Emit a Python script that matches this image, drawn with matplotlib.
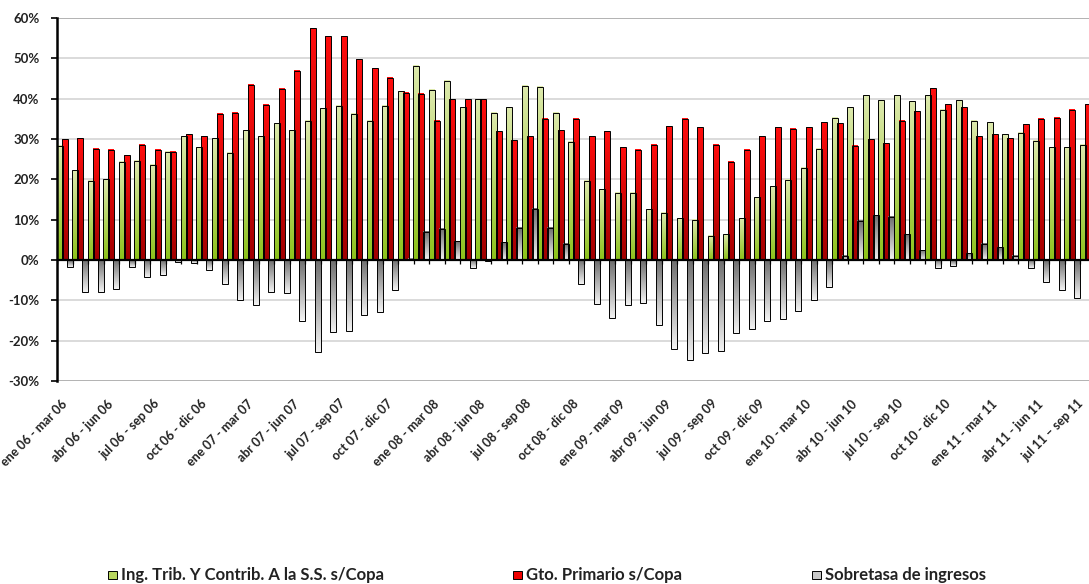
import numpy as np
import matplotlib
matplotlib.use("Agg")
import matplotlib.pyplot as plt
from matplotlib.colors import LinearSegmentedColormap
from matplotlib.patches import Rectangle

# ---- data (percent) ----
ingresos = [28.3, 22.3, 19.7, 20.0, 24.3, 24.6, 23.6, 26.9, 30.7, 27.9,
            30.2, 26.6, 32.2, 30.7, 33.9, 32.2, 34.5, 37.6, 38.2, 36.2,
            34.5, 38.2, 41.9, 48.2, 42.2, 44.5, 37.9, 39.9, 36.5, 37.9,
            43.2, 42.9, 36.5, 29.3, 19.6, 17.6, 16.7, 16.7, 12.6, 11.7,
            10.3, 10.0, 6.0, 6.4, 10.3, 15.6, 18.3, 19.9, 22.9, 27.6,
            35.3, 37.9, 40.9, 39.6, 40.9, 39.3, 40.9, 37.2, 39.6, 34.5,
            34.2, 31.2, 31.6, 29.6, 27.9, 27.9, 28.6]
gasto = [29.9, 30.2, 27.6, 27.3, 26.0, 28.6, 27.3, 26.9, 31.2, 30.7,
         36.2, 36.5, 43.5, 38.5, 42.5, 46.9, 57.4, 55.5, 55.5, 49.8,
         47.5, 45.2, 41.5, 41.2, 34.5, 39.9, 39.9, 39.9, 31.9, 29.7,
         30.7, 35.0, 32.2, 35.0, 30.7, 31.9, 27.9, 27.3, 28.6, 33.2,
         35.0, 32.9, 28.6, 24.3, 27.3, 30.7, 32.9, 32.6, 32.9, 34.2,
         33.9, 28.3, 29.9, 28.9, 34.5, 36.9, 42.6, 38.6, 37.9, 30.7,
         31.2, 30.2, 33.6, 35.0, 35.3, 37.2, 38.6]
sobretasa = [-1.7, -8.0, -8.0, -7.3, -1.7, -4.3, -3.7, -0.4, -0.8, -2.6,
             -6.0, -9.9, -11.2, -8.0, -8.3, -15.0, -22.9, -17.9, -17.7, -13.7,
             -13.0, -7.5, 0.3, 7.0, 7.7, 4.7, -2.1, -0.2, 4.4, 8.0,
             12.7, 8.0, 4.0, -6.0, -10.9, -14.3, -11.2, -10.6, -16.0, -22.1,
             -24.8, -23.0, -22.5, -18.1, -17.1, -15.0, -14.7, -12.7, -10.0, -6.6,
             1.0, 9.7, 11.1, 10.7, 6.4, 2.4, -2.1, -1.4, 1.7, 4.0,
             3.1, 1.0, -2.1, -5.4, -7.4, -9.3, -10.0]
tick_labels = ["ene 06 - mar 06", "abr 06 - jun 06", "jul 06 - sep 06", "oct 06 - dic 06",
               "ene 07 - mar 07", "abr 07 - jun 07", "jul 07 - sep 07", "oct 07 - dic 07",
               "ene 08 - mar 08", "abr 08 - jun 08", "jul 08 - sep 08", "oct 08 - dic 08",
               "ene 09 - mar 09", "abr 09 - jun 09", "jul 09 - sep 09", "oct 09 - dic 09",
               "ene 10 - mar 10", "abr 10 - jun 10", "jul 10 - sep 10", "oct 10 - dic 10",
               "ene 11 - mar 11", "abr 11 - jun 11", "jul 11 \u2013 sep 11"]
series_names = ["Ing. Trib. Y Contrib. A la S.S. s/Copa", "Gto. Primario s/Copa",
                "Sobretasa de ingresos"]

FONT = "Lato"
plt.rcParams["font.family"] = [FONT, "DejaVu Sans"]

W, H = 1089, 584
fig = plt.figure(figsize=(W / 100, H / 100), dpi=100)
left_px, right_px, top_px, bot_px = 57, 1095.5, 18, 381
ax = fig.add_axes([left_px / W, 1 - bot_px / H, (right_px - left_px) / W, (bot_px - top_px) / H])

n = len(ingresos)
x = np.arange(n) + 0.5
bw = 0.37
off = 0.32


def grad_bars(xs, vals, top_c, bot_c):
    cmap = LinearSegmentedColormap.from_list("g", [bot_c, top_c])
    bars = ax.bar(xs, vals, bw, facecolor="none", edgecolor="black", linewidth=0.7, zorder=4)
    g = np.linspace(0, 1, 64).reshape(-1, 1)
    for b in bars:
        x0 = b.get_x()
        y0 = b.get_y()
        h = b.get_height()
        lo, hi = min(y0, y0 + h), max(y0, y0 + h)
        ax.imshow(g, extent=[x0, x0 + b.get_width(), lo, hi], origin="lower",
                  aspect="auto", cmap=cmap, zorder=3, interpolation="bilinear")
    return bars


grad_bars(x - off, ingresos, "#dde9ad", "#8cc21a")
grad_bars(x, gasto, "#ff0d0d", "#a00000")
grad_bars(x + off, sobretasa, "#6e6e6e", "#f2f2f2")

ax.set_xlim(0, n)
ax.set_ylim(-30, 60)
ax.set_aspect("auto")

# grid
for v in range(-30, 61, 10):
    col = "#a6a6a6" if v in (60, -30) else "#d4d4d4"
    ax.axhline(v, color=col, linewidth=1.2, zorder=1)
ax.axhline(0, color="black", linewidth=1.6, zorder=5)
# category tick marks on zero line
ax.vlines(np.arange(0, n + 1), -0.9, 0, color="black", linewidth=0.9, zorder=5)

for s in ["top", "right", "bottom"]:
    ax.spines[s].set_visible(False)
ax.spines["left"].set_linewidth(1.8)
ax.spines["left"].set_color("black")
ax.spines["left"].set_zorder(6)

ax.set_yticks(range(-30, 61, 10))
ax.set_yticklabels([f"{v}%" for v in range(-30, 61, 10)], fontsize=9.5, fontweight="bold",
                   color="#222222")
ax.tick_params(axis="y", length=4.5, width=1.2, pad=8)

label_pos = list(x[::3])
label_pos[-1] = label_pos[-1] - 0.4  # keep last label inside the image
ax.set_xticks(label_pos)
ax.set_xticklabels(tick_labels, rotation=45, ha="right", va="center", rotation_mode="anchor",
                   fontsize=9, fontweight="bold", color="#222222")
ax.tick_params(axis="x", length=0, pad=15)

# legend
leg_y = 1 - 575 / H
items = [(108, series_names[0], "#b8d65e"), (513, series_names[1], "#ee0000"),
         (812, series_names[2], "#c8c8c8")]
for px, label, c in items:
    fig.patches.append(Rectangle((px / W, leg_y - 4 / H), 9 / W, 8 / H, transform=fig.transFigure,
                                 facecolor=c, edgecolor="black", linewidth=0.7))
    fig.text((px + 13) / W, leg_y, label, fontsize=12, fontweight="bold", va="center",
             ha="left", color="#222222")

fig.savefig("out.png", dpi=100)
